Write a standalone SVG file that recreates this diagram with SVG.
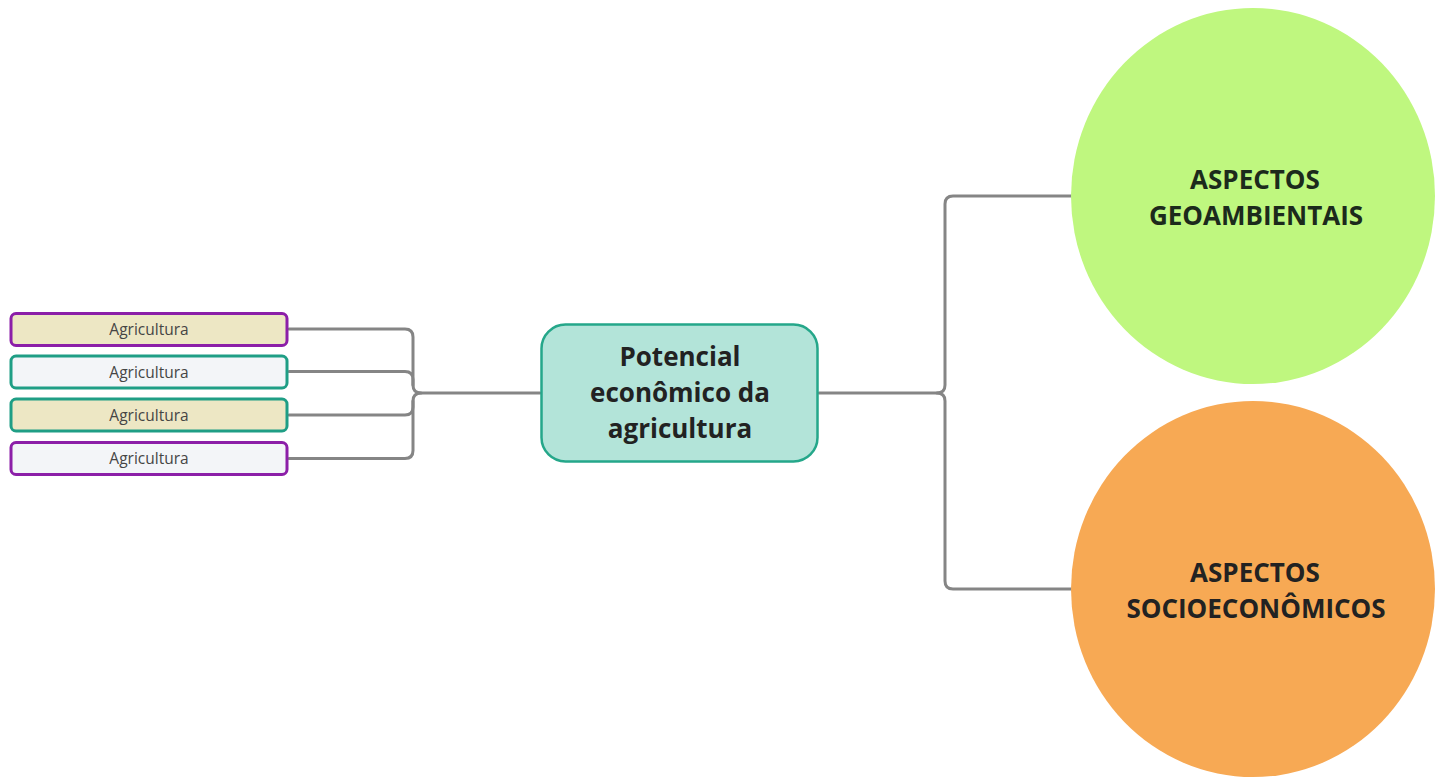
<svg xmlns="http://www.w3.org/2000/svg" width="1437" height="778" viewBox="0 0 1437 778">
<style>
.conn{fill:none;stroke:#858585;stroke-width:3;stroke-linecap:round;stroke-linejoin:round}
.leaf rect{stroke-width:3}
.leaf text{font-family:"Open Sans","Noto Sans",sans-serif;font-size:15.5px;fill:#454545;text-anchor:middle}
.p{stroke:#8c1fa8}
.t{stroke:#1f9e85}
.beige{fill:#ede7c4}
.grey{fill:#f3f5f8}
.big{font-family:"Open Sans","Noto Sans",sans-serif;font-weight:bold;font-size:26px;fill:#1c2a1c;text-anchor:middle}
</style>
<rect width="1437" height="778" fill="#ffffff"/>
<g id="connectors" class="conn">
<path d="M289 329 H405 Q413 329 413 337 V385 Q413 393 421 393 H540"/>
<path d="M289 371.5 H405 Q413 371.5 413 379.5 V385"/>
<path d="M289 415 H405 Q413 415 413 407 V401 Q413 393 421 393"/>
<path d="M289 458.5 H405 Q413 458.5 413 450.5 V401"/>
<path d="M819 393 H937 Q945 393 945 385 V204 Q945 196 953 196 H1072"/>
<path d="M937 393 Q945 393 945 401 V581 Q945 589 953 589 H1072"/>
</g>
<g id="leaf1" class="leaf"><rect x="11" y="313.5" width="276" height="32" rx="5" class="p beige"/><text x="149" y="335">Agricultura</text></g>
<g id="leaf2" class="leaf"><rect x="11" y="356" width="276" height="32" rx="5" class="t grey"/><text x="149" y="377.5">Agricultura</text></g>
<g id="leaf3" class="leaf"><rect x="11" y="399" width="276" height="32" rx="5" class="t beige"/><text x="149" y="420.5">Agricultura</text></g>
<g id="leaf4" class="leaf"><rect x="11" y="442.5" width="276" height="32" rx="5" class="p grey"/><text x="149" y="464">Agricultura</text></g>
<g id="central">
<rect x="541.5" y="324.5" width="276" height="137" rx="24" fill="#b3e4d9" stroke="#25a78a" stroke-width="2.5"/>
<text class="big" x="680" y="366" style="fill:#222">Potencial</text>
<text class="big" x="680" y="402" style="fill:#222">econômico da</text>
<text class="big" x="680" y="438" style="fill:#222">agricultura</text>
</g>
<g id="geo">
<ellipse cx="1253" cy="196" rx="182" ry="188" fill="#bff77f"/>
<text class="big" x="1255" y="189">ASPECTOS</text>
<text class="big" x="1256" y="225">GEOAMBIENTAIS</text>
</g>
<g id="socio">
<ellipse cx="1253" cy="589" rx="182" ry="188" fill="#f7a954"/>
<text class="big" x="1255" y="582" style="fill:#222">ASPECTOS</text>
<text class="big" x="1256" y="618" style="fill:#222">SOCIOECONÔMICOS</text>
</g>
</svg>
